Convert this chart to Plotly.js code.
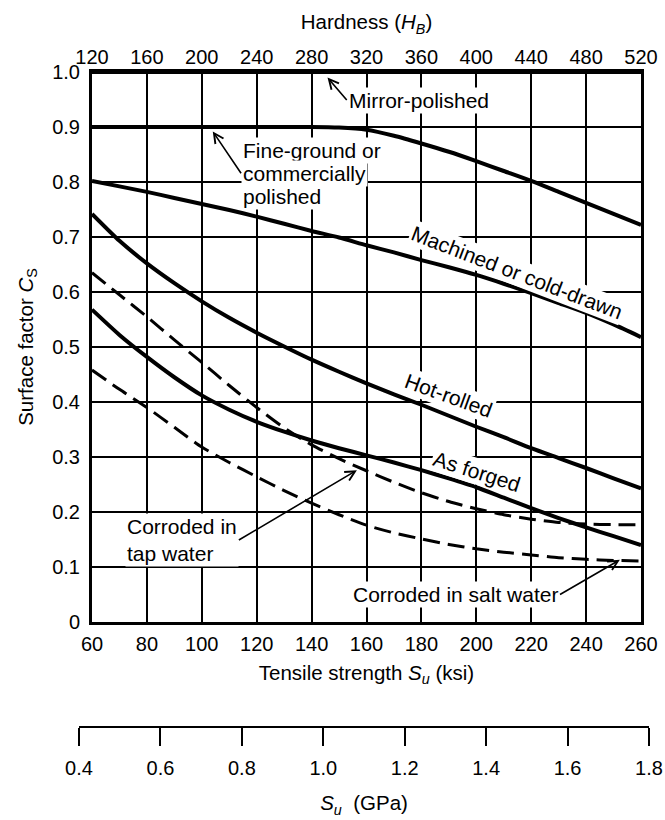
<!DOCTYPE html>
<html>
<head>
<meta charset="utf-8">
<script src="https://cdn.plot.ly/plotly-3.0.1.min.js"></script>
<style>html,body{margin:0;padding:0;background:#fff;}#chart{width:665px;height:820px;}</style>
</head>
<body>
<div id="chart"></div>
<script>
// Tensile strength (ksi) sample points
var ksi = [60,70,80,90,100,110,120,130,140,150,160,170,180,190,200,210,220,230,240,250,260];
// Surface factor series
var mirrorKsi = [60,260];
var mirrorPolished = [1.0,1.0];
var fineGround   = [0.900,0.900,0.900,0.900,0.900,0.900,0.900,0.900,0.900,0.899,0.895,0.884,0.870,0.855,0.838,0.820,0.802,0.782,0.762,0.742,0.722];
var machined     = [0.802,0.792,0.782,0.771,0.760,0.749,0.737,0.724,0.711,0.699,0.685,0.672,0.658,0.645,0.631,0.615,0.598,0.580,0.562,0.541,0.518];
var hotRolled    = [0.742,0.693,0.652,0.616,0.583,0.553,0.526,0.501,0.477,0.455,0.434,0.414,0.395,0.375,0.355,0.336,0.316,0.298,0.280,0.261,0.243];
var asForged     = [0.568,0.522,0.482,0.445,0.412,0.386,0.364,0.346,0.330,0.316,0.303,0.290,0.276,0.261,0.245,0.226,0.207,0.189,0.172,0.156,0.140];
var tapWater     = [0.635,0.595,0.555,0.513,0.472,0.430,0.390,0.353,0.322,0.297,0.275,0.254,0.235,0.219,0.206,0.195,0.187,0.181,0.178,0.177,0.177];
var saltWater    = [0.458,0.423,0.390,0.354,0.318,0.290,0.264,0.239,0.216,0.195,0.176,0.162,0.151,0.141,0.133,0.127,0.122,0.117,0.114,0.112,0.111];

// Tick labels
var ksiTicks = [60,80,100,120,140,160,180,200,220,240,260];
var hardnessTicks = [120,160,200,240,280,320,360,400,440,480,520];
var csTicks = [0,0.1,0.2,0.3,0.4,0.5,0.6,0.7,0.8,0.9,1.0];
var csTickText = ['0','0.1','0.2','0.3','0.4','0.5','0.6','0.7','0.8','0.9','1.0'];
var gpaTicks = [0.4,0.6,0.8,1.0,1.2,1.4,1.6,1.8];
var gpaTickText = ['0.4','0.6','0.8','1.0','1.2','1.4','1.6','1.8'];

var solid = {color:'black', width:4, shape:'spline', smoothing:0.6};
var dashed = {color:'black', width:3, dash:'17px,8px', shape:'spline', smoothing:0.6};

function tr(x, y, line, name){
  return {x:x, y:y, type:'scatter', mode:'lines', line:line, name:name, hoverinfo:'skip', showlegend:false, xaxis:'x', yaxis:'y'};
}

var data = [
  tr(mirrorKsi, mirrorPolished, {color:'black', width:4}, 'Mirror-polished'),
  tr(ksi, fineGround, solid, 'Fine-ground or commercially polished'),
  tr(ksi, machined, solid, 'Machined or cold-drawn'),
  tr(ksi, hotRolled, solid, 'Hot-rolled'),
  tr(ksi, asForged, solid, 'As forged'),
  tr(ksi, tapWater, dashed, 'Corroded in tap water'),
  tr(ksi, saltWater, dashed, 'Corroded in salt water'),
  {x:hardnessTicks, y:hardnessTicks.map(function(){return null;}), type:'scatter', mode:'lines', xaxis:'x2', yaxis:'y', hoverinfo:'skip', showlegend:false},
  {x:gpaTicks, y:gpaTicks.map(function(){return null;}), type:'scatter', mode:'lines', xaxis:'x3', yaxis:'y2', hoverinfo:'skip', showlegend:false}
];

var FONT = 'Liberation Sans, Arial, Helvetica, sans-serif';
var labelFont = {family:FONT, size:21, color:'black'};

function lab(text, x, y, extra){
  var a = {text:text, x:x, y:y, xref:'x', yref:'y', showarrow:false, font:labelFont, bgcolor:'white', borderpad:1};
  for (var k in extra) a[k] = extra[k];
  return a;
}
function arrowLab(text, tipX, tipY, tailX, tailY, anchor, extra){
  var a = {text:text, x:tipX, y:tipY, ax:tailX, ay:tailY, axref:'x', ayref:'y', xref:'x', yref:'y',
    showarrow:true, arrowhead:5, arrowsize:1.2, arrowwidth:1.6, arrowcolor:'black', standoff:0,
    xanchor:anchor, yanchor:'middle', align:'left', font:labelFont, bgcolor:'white', borderpad:1};
  for (var k in extra) a[k] = extra[k];
  return a;
}

var layout = {
  width:665, height:820,
  margin:{l:79, r:16, t:72, b:94},
  paper_bgcolor:'white', plot_bgcolor:'white',
  font:{family:FONT, size:20, color:'black'},
  showlegend:false,
  xaxis:{
    domain:[13/570, 562/570], range:[60,260], anchor:'y',
    tickmode:'array', tickvals:ksiTicks, ticks:'', ticklabelstandoff:2,
    showgrid:true, gridcolor:'black', gridwidth:2, zeroline:false,
    showline:true, linecolor:'black', linewidth:3, mirror:true,
    tickfont:{family:FONT, size:20, color:'black'},
    title:{text:'Tensile strength <i>S</i><sub><i>u</i></sub> (ksi)', standoff:12, font:{family:FONT, size:20.5, color:'black'}}
  },
  xaxis2:{
    overlaying:'x', side:'top', anchor:'y', range:[120,520],
    tickmode:'array', tickvals:hardnessTicks, ticks:'', ticklabelstandoff:3,
    showgrid:false, zeroline:false, showline:false,
    tickfont:{family:FONT, size:20, color:'black'},
    title:{text:'Hardness (<i>H</i><sub><i>B</i></sub>)', standoff:10, font:{family:FONT, size:20.5, color:'black'}}
  },
  xaxis3:{
    domain:[0,1], anchor:'y2', range:[0.4,1.8],
    tickmode:'array', tickvals:gpaTicks, ticktext:gpaTickText,
    ticks:'outside', ticklen:18, tickwidth:2, tickcolor:'black', ticklabelstandoff:5,
    showgrid:false, zeroline:false, showline:true, linecolor:'black', linewidth:2,
    tickfont:{family:FONT, size:20, color:'black'},
    title:{text:'<i>S</i><sub><i>u</i></sub>  (GPa)', standoff:18, font:{family:FONT, size:20.5, color:'black'}}
  },
  yaxis:{
    domain:[104/654, 1], range:[0,1], anchor:'x',
    tickmode:'array', tickvals:csTicks, ticktext:csTickText, ticks:'', ticklabelstandoff:5,
    showgrid:true, gridcolor:'black', gridwidth:2, zeroline:false,
    showline:true, linecolor:'black', linewidth:3, mirror:true,
    tickfont:{family:FONT, size:20, color:'black'},
    title:{text:'Surface factor <i>C</i><sub>S</sub>', standoff:14, font:{family:FONT, size:20.5, color:'black'}}
  },
  yaxis2:{domain:[0,0.004], range:[0,1], anchor:'x3', visible:false, fixedrange:true},
  annotations:[
    arrowLab('Mirror-polished', 145.8, 0.99, 152.8, 0.949, 'left'),
    lab('Fine-ground or', 114.3, 0.858, {xanchor:'left'}),
    arrowLab('commercially', 104, 0.892, 114.3, 0.816, 'left'),
    lab('polished', 114.3, 0.773, {xanchor:'left'}),
    lab('Machined or cold-drawn', 214.8, 0.636, {textangle:21}),
    lab('Hot-rolled', 190, 0.411, {textangle:20}),
    lab('As forged', 200.3, 0.274, {textangle:17.6}),
    arrowLab('Corroded in<br>tap water', 156.5, 0.276, 113.5, 0.149, 'right'),
    arrowLab('Corroded in salt water', 252.3, 0.113, 230.5, 0.05, 'right')
  ]
};

Plotly.newPlot('chart', data, layout, {staticPlot:true, displayModeBar:false});
</script>
</body>
</html>
